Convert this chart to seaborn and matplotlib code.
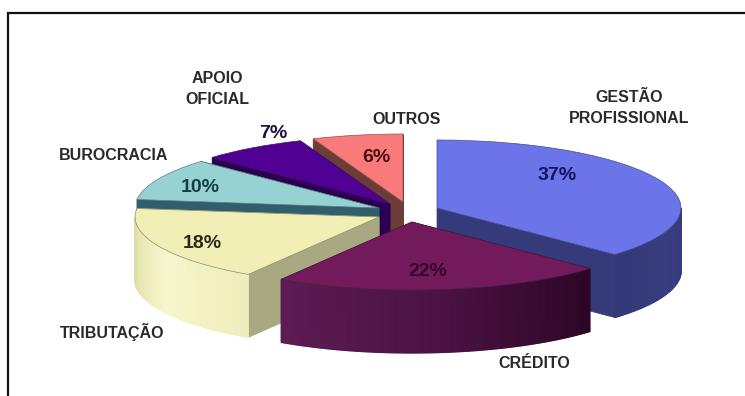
import numpy as np
import matplotlib
matplotlib.use("Agg")
import matplotlib.pyplot as plt
from matplotlib.patches import Wedge, Polygon
from matplotlib.transforms import Affine2D
import seaborn as sns

# Share of each obstacle, clockwise from twelve o'clock
categories = ["GESTÃO\nPROFISSIONAL", "CRÉDITO", "TRIBUTAÇÃO", "BUROCRACIA", "APOIO\nOFICIAL", "OUTROS"]
shares = [37, 22, 18, 10, 7, 6]

top_colors = ["#6c74ea", "#721a5c", "#f1efb6", "#97d2d2", "#500092", "#f97a7a"]
cut_colors = ["#343a7a", "#34082e", "#a9a981", "#2f5f6c", "#2b0052", "#6c3c38"]
wall_stops = [
    ["#343a7c", "#383e80", "#343876"],
    ["#2c0626", "#4a1242", "#5e1c54"],
    ["#eeeebc", "#f6f6cc", "#dcdca4"],
    ["#2f5f6c", "#2f5f6c"],
    ["#2b0052", "#2b0052"],
    ["#6c3c38", "#6c3c38"],
]
label_colors = ["#14145e", "#34082e", "#2a2a18", "#123e48", "#22103a", "#4a1010"]

# Layout, in figure pixels
centers = [(437, 208), (412, 222), (379, 217), (379, 208), (390, 204), (403, 202)]
radius_x, radius_y, depth = 244, 68, 63
pct_pos = [(557, 175), (428, 272), (202, 243), (200, 187), (273, 134), (376, 157)]
name_pos = [(629, 108), (534, 363), (112, 332), (114, 156), (217, 89), (407, 119)]
draw_order = [5, 4, 3, 2, 0, 1]

sns.set_theme(style="white")
plt.rcParams["font.family"] = ["Liberation Sans", "DejaVu Sans"]

fig = plt.figure(figsize=(7.45, 3.96), dpi=100, facecolor="white")
ax = fig.add_axes([0, 0, 1, 1])
ax.set_xlim(0, 745)
ax.set_ylim(396, 0)
ax.axis("off")

# Outer frame: only the top and left edges fall inside the figure
ax.plot([8, 8, 745], [396, 13, 13], color="#111111", lw=1.6, solid_joinstyle="miter", zorder=1)


def rim(center, clock_deg):
    """Point on the slice's upper rim, angle measured clockwise from the top."""
    a = np.radians(clock_deg)
    return center[0] + radius_x * np.sin(a), center[1] - radius_y * np.cos(a)


edges = np.concatenate([[0], np.cumsum(shares)]) * 3.6
z = 2
for i in draw_order:
    c = centers[i]
    start, stop = edges[i], edges[i + 1]

    # Flat faces where the slice has been cut
    for ang in (start, stop):
        p = rim(c, ang)
        pts = [c, p, (p[0], p[1] + depth), (c[0], c[1] + depth)]
        ax.add_patch(Polygon(pts, closed=True, fc=cut_colors[i], ec=cut_colors[i], lw=0.5, zorder=z))
    z += 1

    # Curved outer wall, front half only, built from shaded strips
    lo, hi = max(start, 90), min(stop, 270)
    if hi > lo:
        n = int((hi - lo) * 2) + 1
        shades = sns.blend_palette(wall_stops[i], n)
        angs = np.linspace(lo, hi, n + 1)
        for k in range(n):
            p, q = rim(c, angs[k]), rim(c, angs[k + 1])
            pts = [p, q, (q[0], q[1] + depth), (p[0], p[1] + depth)]
            ax.add_patch(Polygon(pts, closed=True, fc=shades[k], ec=shades[k], lw=0.9, zorder=z))
    z += 1

    # Upper face: a unit wedge stretched into the tilted ellipse
    tf = Affine2D().scale(radius_x, -radius_y).translate(*c) + ax.transData
    ax.add_patch(Wedge((0, 0), 1, 90 - stop, 90 - start, transform=tf,
                       fc=top_colors[i], ec=sns.dark_palette(top_colors[i], 3)[1], lw=0.5, zorder=z))
    z += 1

for share, name, pct_xy, name_xy, col in zip(shares, categories, pct_pos, name_pos, label_colors):
    ax.text(*pct_xy, f"{share}%", ha="center", va="center", fontsize=14, fontweight="bold", color=col, zorder=50)
    ax.text(*name_xy, name, ha="center", va="center", fontsize=11.5, fontweight="bold", color="#2a2a2a",
            linespacing=1.5, zorder=50)

fig.savefig("out.png", dpi=100)
